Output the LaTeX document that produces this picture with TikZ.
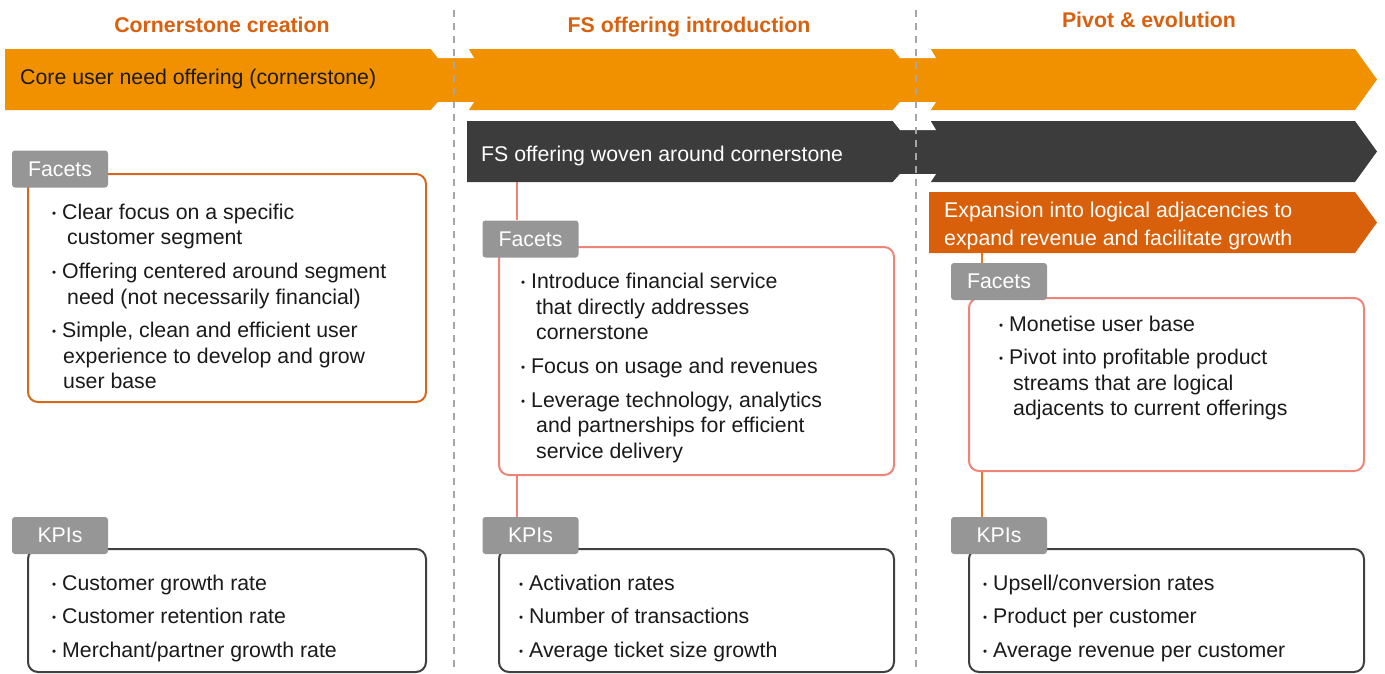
\documentclass[tikz,border=0pt]{standalone}
\usepackage{fontspec}
\setmainfont{Liberation Sans}
\usetikzlibrary{backgrounds}
\definecolor{hdr}{HTML}{D9600E}
\definecolor{barA}{HTML}{F29100}
\definecolor{barD}{HTML}{3C3C3C}
\definecolor{barE}{HTML}{D9600A}
\definecolor{tabg}{HTML}{969696}
\definecolor{boxA}{HTML}{D2691E}
\definecolor{salm}{HTML}{EE8478}
\definecolor{conO}{HTML}{E8761E}
\definecolor{kpi}{HTML}{404040}
\definecolor{divg}{HTML}{A6A6A6}
\definecolor{txt}{HTML}{1A1A1A}
\newcommand\bul{\makebox[10pt][l]{\raisebox{1.8pt}{\fontsize{11.5}{11.5}\selectfont •}}}
\tikzset{
  body/.style={font=\fontsize{21.3}{25}\selectfont, anchor=base west, inner sep=0pt, text=txt},
  wbody/.style={body, text=white},
  hdrtxt/.style={font=\bfseries\fontsize{21.3}{25}\selectfont, text=hdr, inner sep=0pt, anchor=base},
  tabbox/.style={fill=tabg, rounded corners=3pt, text=white, font=\fontsize{21.3}{25}\selectfont, inner sep=0pt, minimum width=96pt, minimum height=37pt},
  frame/.style={draw, line width=2pt, rounded corners=10pt, fill=white, inner sep=0pt, anchor=north west},
  conn/.style={line width=2pt},
  divider/.style={divg, line width=1.5pt, dash pattern=on 7pt off 6pt},
  notch/.style={fill=white}
}
\begin{document}
\begin{tikzpicture}[x=1pt,y=-1pt]
\useasboundingbox (0,0) rectangle (1385,673);
% bars
\fill[barA] (5,49) -- (1355,49) -- (1377,79.5) -- (1355,110) -- (5,110) -- cycle;
\fill[barD] (467,121) -- (1355,121) -- (1377,151.5) -- (1355,182) -- (467,182) -- cycle;
\fill[barE] (929,192) -- (1355,192) -- (1377,222.5) -- (1355,253) -- (929,253) -- cycle;
% notches
\foreach \c/\t/\b in {453/49/110, 915/49/110, 915/121/182}{
  \fill[notch] (\c-23,\t-1) -- (\c+15,\t-1) -- (\c+21,\t+9) -- (\c-15,\t+9) -- cycle;
  \fill[notch] (\c-23,\b+1) -- (\c+15,\b+1) -- (\c+21,\b-8) -- (\c-15,\b-8) -- cycle;
}
% dividers
\draw[divider] (454,10) -- (454,673);
\draw[divider] (916,10) -- (916,673);
% headers
\node[hdrtxt] (h1) at (222,32) {Cornerstone creation};
\node[hdrtxt] (h2) at (689,32) {FS offering introduction};
\node[hdrtxt] (h3) at (1149,27.5) {Pivot \& evolution};
% bar texts
\node[body] (b1) at (20,84) {Core user need offering (cornerstone)};
\node[wbody] (b2) at (481,161) {FS offering woven around cornerstone};
\node[wbody] (b3a) at (944,217) {Expansion into logical adjacencies to};
\node[wbody] (b3b) at (944,245) {expand revenue and facilitate growth};
% connector anchors
\coordinate (bar2b) at (517,182);
\coordinate (bar3b) at (982,253);
% boxes
\node[frame, draw=boxA, minimum width=398pt, minimum height=228pt] (c1f) at (27,173) {};
\node[frame, draw=kpi, minimum width=398pt, minimum height=123pt] (c1k) at (27,548) {};
\node[frame, draw=salm, minimum width=395pt, minimum height=228pt] (c2f) at (498,246) {};
\node[frame, draw=kpi, minimum width=395pt, minimum height=123pt] (c2k) at (498,548) {};
\node[frame, draw=salm, minimum width=395pt, minimum height=173pt] (c3f) at (968,297) {};
\node[frame, draw=kpi, minimum width=395pt, minimum height=123pt] (c3k) at (968,548) {};
% tabs
\node[tabbox] (t1f) at (60,169) {Facets};
\node[tabbox] (t1k) at (60,535.5) {KPIs};
\node[tabbox] (t2f) at (530.5,239) {Facets};
\node[tabbox] (t2k) at (530.5,535.5) {KPIs};
\node[tabbox] (t3f) at (999,281.5) {Facets};
\node[tabbox] (t3k) at (999,535.5) {KPIs};
% connectors (behind tabs)
\begin{scope}[on background layer]
\draw[conn, salm] (bar2b) -- (bar2b |- t2f.north);
\draw[conn, salm] (c2f.south -| bar2b) -- (bar2b |- t2k.north);
\draw[conn, conO] (bar3b) -- (bar3b |- t3f.north);
\draw[conn, conO] (c3f.south -| bar3b) -- (bar3b |- t3k.north);
\end{scope}
% column 1 facets
\node[body] (a1) at (52,219) {\bul Clear focus on a specific};
\node[body] (a2) at (67,244) {customer segment};
\node[body] (a3) at (52,278) {\bul Offering centered around segment};
\node[body] (a4) at (67,304) {need (not necessarily financial)};
\node[body] (a5) at (52,337) {\bul Simple, clean and efficient user};
\node[body] (a6) at (63,363) {experience to develop and grow};
\node[body] (a7) at (63,388) {user base};
% column 1 KPIs
\node[body] (k11) at (52,590) {\bul Customer growth rate};
\node[body] (k12) at (52,623) {\bul Customer retention rate};
\node[body] (k13) at (52,657) {\bul Merchant/partner growth rate};
% column 2 facets
\node[body] (m1) at (521,288) {\bul Introduce financial service};
\node[body] (m2) at (536,314) {that directly addresses};
\node[body] (m3) at (536,339) {cornerstone};
\node[body] (m4) at (521,373) {\bul Focus on usage and revenues};
\node[body] (m5) at (521,407) {\bul Leverage technology, analytics};
\node[body] (m6) at (536,432) {and partnerships for efficient};
\node[body] (m7) at (536,458) {service delivery};
% column 2 KPIs
\node[body] (k21) at (519,590) {\bul Activation rates};
\node[body] (k22) at (519,623) {\bul Number of transactions};
\node[body] (k23) at (519,657) {\bul Average ticket size growth};
% column 3 facets
\node[body] (p1) at (999,331) {\bul Monetise user base};
\node[body] (p2) at (999,364) {\bul Pivot into profitable product};
\node[body] (p3) at (1013,390) {streams that are logical};
\node[body] (p4) at (1013,415) {adjacents to current offerings};
% column 3 KPIs
\node[body] (k31) at (983,590) {\bul Upsell/conversion rates};
\node[body] (k32) at (983,623) {\bul Product per customer};
\node[body] (k33) at (983,657) {\bul Average revenue per customer};
\end{tikzpicture}
\end{document}
